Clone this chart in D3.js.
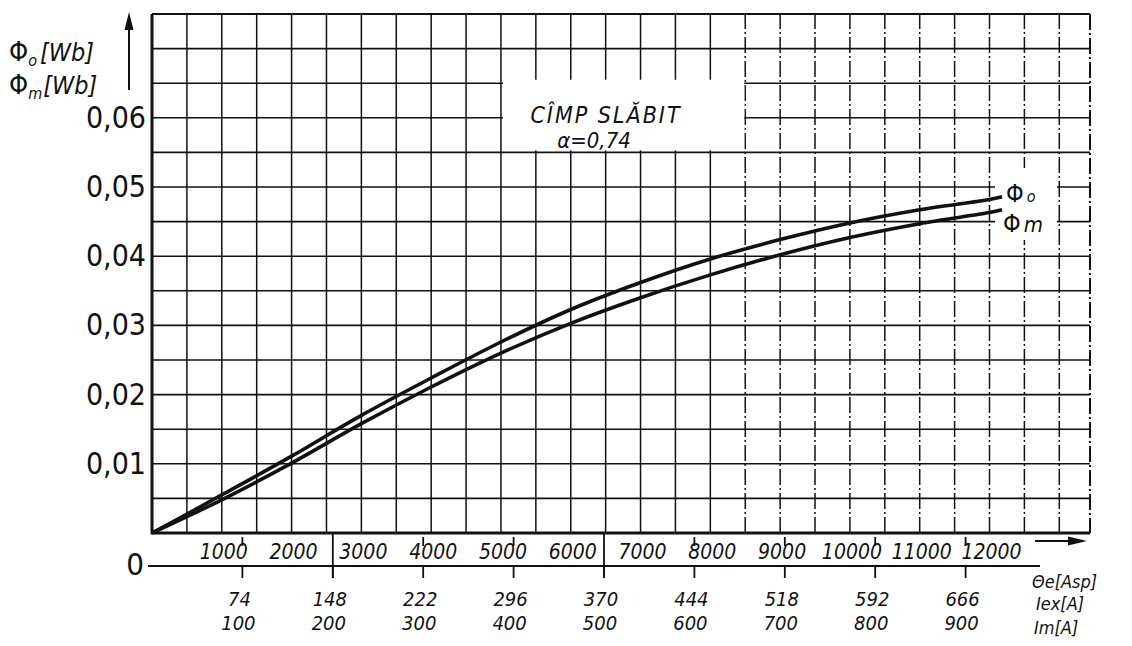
<!DOCTYPE html>
<html><head><meta charset="utf-8">
<script src="https://cdn.jsdelivr.net/npm/d3@7/dist/d3.min.js"></script>
<style>
body{margin:0;background:#fff;}
svg{display:block;background:#fff;}
.num{font-family:"DejaVu Sans Condensed","Liberation Sans",sans-serif;fill:#111;}
.hand{font-family:"DejaVu Sans Condensed","Liberation Sans",sans-serif;font-style:italic;fill:#111;}
</style></head><body>
<svg id="c" width="1132" height="646"></svg>
<script>
// ---- data ----
const aspTicks = [1000,2000,3000,4000,5000,6000,7000,8000,9000,10000,11000,12000];
const imTicks = [100,200,300,400,500,600,700,800,900];
const iexLabels = ["74","148","222","296","370","444","518","592","666"];
const imLabels = ["100","200","300","400","500","600","700","800","900"];
const yTicks = [0.01,0.02,0.03,0.04,0.05,0.06];
const yTickLabels = ["0,01","0,02","0,03","0,04","0,05","0,06"];
// flux curves vs. excitation ampere-turns (Asp)
const aspPts = [0,1000,2000,3000,4000,5000,6000,7000,8000,9000,10000,11000,12000,12180];
const phiO = [0,0.0055,0.0111,0.0170,0.0224,0.0276,0.0323,0.0362,0.0396,0.0424,0.0448,0.0467,0.0482,0.0486];
const phiM = [0,0.0048,0.0101,0.0158,0.0211,0.0260,0.0303,0.0340,0.0373,0.0402,0.0427,0.0447,0.0463,0.0467];

const svg = d3.select("#c");
const ink = "#111";

const x = d3.scaleLinear().domain([0,13440]).range([152,1090]);
const xIm = d3.scaleLinear().domain([0,1000]).range([152,1056]);
const y = d3.scaleLinear().domain([0,0.075]).range([533,14]);

// grid
const g = svg.append("g");
const vGrid = d3.range(500,13001,500);
g.selectAll("line.v").data(vGrid).join("line")
  .attr("x1",d=>x(d)).attr("x2",d=>x(d)).attr("y1",y(0)).attr("y2",y(0.075))
  .attr("stroke",ink).attr("stroke-width",1.5)
  .attr("stroke-dasharray",d=>d>=8500?"16,3,2,3":null);
const hGrid = d3.range(1,15).map(i=>i*0.005);
g.selectAll("line.h").data(hGrid).join("line")
  .attr("x1",x(0)).attr("x2",x(13440)).attr("y1",d=>y(d)).attr("y2",d=>y(d))
  .attr("stroke",ink).attr("stroke-width",1.6);

// white boxes behind annotations
svg.append("rect").attr("x",x(5000)+2).attr("y",y(0.0655)).attr("width",x(8500)-x(5000)-3).attr("height",y(0.055)-y(0.0655)-2).attr("fill","#fff");
svg.append("rect").attr("x",995).attr("y",168).attr("width",62).attr("height",72).attr("fill","#fff");

// frame
svg.append("line").attr("x1",x(0)).attr("x2",x(0)).attr("y1",y(0.075)).attr("y2",y(0)+1).attr("stroke",ink).attr("stroke-width",3);
svg.append("line").attr("x1",x(0)-1).attr("x2",x(13440)).attr("y1",y(0)).attr("y2",y(0)).attr("stroke",ink).attr("stroke-width",3);
svg.append("line").attr("x1",x(0)).attr("x2",x(13440)).attr("y1",y(0.075)).attr("y2",y(0.075)).attr("stroke",ink).attr("stroke-width",2.2);
svg.append("line").attr("x1",x(13440)).attr("x2",x(13440)).attr("y1",y(0.075)).attr("y2",y(0)).attr("stroke",ink).attr("stroke-width",2).attr("stroke-dasharray","16,3,2,3");

// curves
const line = d3.line().curve(d3.curveCatmullRom.alpha(0.5));
svg.append("path").attr("d",line(aspPts.map((a,i)=>[x(a),y(phiO[i])])))
  .attr("fill","none").attr("stroke",ink).attr("stroke-width",3.6);
svg.append("path").attr("d",line(aspPts.map((a,i)=>[x(a),y(phiM[i])])))
  .attr("fill","none").attr("stroke",ink).attr("stroke-width",3.6);

// y tick labels
svg.selectAll("text.yt").data(yTicks).join("text").attr("class","num")
  .attr("x",146).attr("y",d=>y(d)+10).attr("text-anchor","end")
  .attr("font-size",30).text((d,i)=>yTickLabels[i]);
svg.append("text").attr("class","num").attr("x",144).attr("y",575).attr("text-anchor","end").attr("font-size",31).text("0");

// y axis title and arrow
const t1 = svg.append("text").attr("class","hand").attr("x",9).attr("y",61).attr("font-size",25);
t1.append("tspan").attr("font-style","normal").attr("font-size",27).text("Φ");
t1.append("tspan").attr("dy",5).attr("font-size",16).text("o");
t1.append("tspan").attr("dy",-5).attr("dx",3).text("[Wb]");
const t2 = svg.append("text").attr("class","hand").attr("x",9).attr("y",94).attr("font-size",25);
t2.append("tspan").attr("font-style","normal").attr("font-size",27).text("Φ");
t2.append("tspan").attr("dy",5).attr("font-size",16).text("m");
t2.append("tspan").attr("dy",-5).attr("dx",1).text("[Wb]");
svg.append("line").attr("x1",129).attr("x2",129).attr("y1",90).attr("y2",26).attr("stroke",ink).attr("stroke-width",2);
svg.append("path").attr("d","M129,12 L124.5,30 L133.5,30 Z").attr("fill",ink);

// annotation
svg.append("text").attr("class","hand").attr("x",606).attr("y",123).attr("text-anchor","middle")
  .attr("font-size",23).attr("letter-spacing",2).text("CÎMP SLĂBIT");
svg.append("text").attr("class","hand").attr("x",594).attr("y",148).attr("text-anchor","middle")
  .attr("font-size",22).text("α=0,74");

// curve labels
const lo = svg.append("text").attr("class","hand").attr("x",1006).attr("y",202).attr("font-size",22);
lo.append("tspan").attr("font-style","normal").attr("font-size",25).text("Φ");
lo.append("tspan").attr("dx",3).attr("font-size",16).text("o");
const lm = svg.append("text").attr("class","hand").attr("x",1003).attr("y",232).attr("font-size",22);
lm.append("tspan").attr("font-style","normal").attr("font-size",25).text("Φ");
lm.append("tspan").attr("dx",3).text("m");

// Asp scale labels
svg.selectAll("text.asp").data(aspTicks).join("text").attr("class","hand")
  .attr("x",d=>x(d)+2).attr("y",559).attr("text-anchor","middle").attr("font-size",21).text(d=>d);
// arrow after the Asp scale
svg.append("line").attr("x1",1035).attr("x2",1072).attr("y1",541).attr("y2",541).attr("stroke",ink).attr("stroke-width",2.2);
svg.append("path").attr("d","M1087,541 L1068,536.5 L1068,545.5 Z").attr("fill",ink);

// current axis line and ticks
svg.append("line").attr("x1",148).attr("x2",1040).attr("y1",566).attr("y2",566).attr("stroke",ink).attr("stroke-width",2);
svg.selectAll("line.t1").data(imTicks).join("line")
  .attr("x1",d=>xIm(d)).attr("x2",d=>xIm(d))
  .attr("y1",d=>(d===200||d===500)?y(0):537).attr("y2",d=>(d===200||d===500)?578:546)
  .attr("stroke",ink).attr("stroke-width",1.8);
svg.selectAll("line.t2").data(imTicks).join("line")
  .attr("x1",d=>xIm(d)).attr("x2",d=>xIm(d)).attr("y1",566).attr("y2",578)
  .attr("stroke",ink).attr("stroke-width",1.8);
svg.selectAll("text.iex").data(imTicks).join("text").attr("class","hand")
  .attr("x",d=>xIm(d)-3).attr("y",606).attr("text-anchor","middle").attr("font-size",20).text((d,i)=>iexLabels[i]);
svg.selectAll("text.im").data(imTicks).join("text").attr("class","hand")
  .attr("x",d=>xIm(d)-4).attr("y",630).attr("text-anchor","middle").attr("font-size",20).text((d,i)=>imLabels[i]);

// unit labels bottom right
svg.append("text").attr("class","hand").attr("x",1032).attr("y",588).attr("font-size",18).text("Θe[Asp]");
svg.append("text").attr("class","hand").attr("x",1036).attr("y",610).attr("font-size",18).text("Iex[A]");
svg.append("text").attr("class","hand").attr("x",1034).attr("y",634).attr("font-size",18).text("Im[A]");
</script>
</body></html>
